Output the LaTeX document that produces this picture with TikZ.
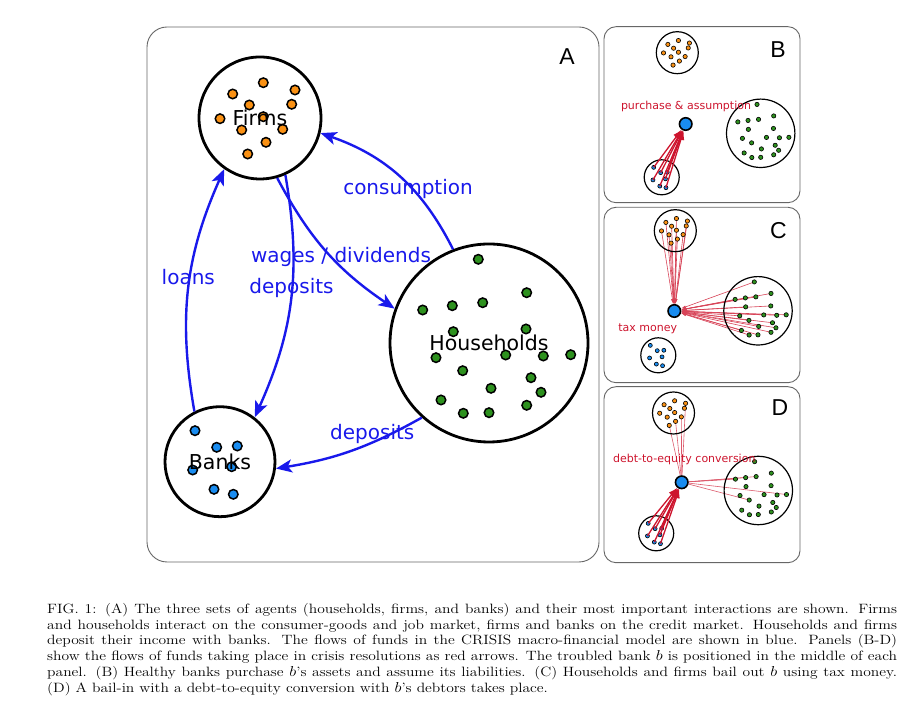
\documentclass[tikz,border=0pt]{standalone}
\usepackage{fontspec}
\setsansfont{DejaVu Sans}
\newfontfamily\panelfont{Liberation Sans}
\usetikzlibrary{arrows.meta,backgrounds}

\definecolor{flowblue}{RGB}{25,25,235}
\definecolor{resred}{RGB}{205,20,45}
\definecolor{firmorange}{RGB}{250,145,20}
\definecolor{hhgreen}{RGB}{45,145,30}
\definecolor{bankblue}{RGB}{25,140,240}

\tikzset{
  panel/.style={draw=black!60, line width=0.9pt},
  panelletter/.style={font=\panelfont\fontsize{23}{23}\selectfont, inner sep=0pt},
  sector/.style={circle, draw, line width=2.8pt, inner sep=0pt, font=\sffamily\fontsize{20.5}{20.5}\selectfont},
  smallsector/.style={circle, draw, line width=1.2pt, inner sep=0pt},
  agentdot/.style={circle, draw, inner sep=0pt, minimum size=9.5pt, transform shape},
  smalldot/.style={agentdot, minimum size=12.5pt},
  troubled/.style={circle, draw, fill=bankblue, line width=1.6pt, inner sep=0pt, minimum size=12.5pt},
  flow/.style={draw=flowblue, line width=2.4pt, -{Stealth[length=16pt,width=13pt,inset=4pt]}},
  flowlabel/.style={text=flowblue, font=\sffamily\fontsize{20}{20}\selectfont, inner sep=0pt},
  rescue/.style={draw=resred, line width=1.3pt, -{Latex[length=9pt,width=7pt]}},
  tinyflow/.style={draw=resred!80, line width=0.6pt, -{Latex[length=5pt,width=3pt]}},
  debtlink/.style={draw=resred!70, line width=0.6pt},
  resolabel/.style={text=resred, font=\sffamily\fontsize{11}{11}\selectfont, inner sep=0pt},
  figcaption/.style={text width=739pt, align=justify, inner sep=0pt, xscale=1.15, transform shape,
    font=\rmfamily\fontsize{13.5}{15.8}\selectfont}
}

\newcommand\firmpos{3.3/35.3, -27.3/24, 35/28, 31.7/13.7, -10.7/13, -40/-0.7, -18.3/-12, 22.7/-11.3, 6/-24.3, -12.3/-36, 3.3/1.3}
\newcommand\hhpos{-10.7/83.7, 37.7/50.3, -66.3/33, -36.7/37.3, -6.3/40.3, 37/14, -35.7/11.3, -53/-14.7, 16.7/-12, 54.3/-13, 81.7/-11.7, -26.3/-27.7, 42/-34.7, 2/-45.3, 52/-49.3, -48/-57, -25.7/-70.3, 0/-69.7, 37.7/-62.3}
\newcommand\bankpos{-25/31, -3.3/14.4, 17.3/15.7, -27.3/-8.3, 11.7/-5, -6/-27.6, 13.3/-32.6}

\newcommand\agents[7]{%
  \begin{scope}[shift={#2}, scale=#3]
    \foreach \dx/\dy [count=\k] in #4
      \node[#7, fill=#5, line width=#6] (#1\k) at (\dx,\dy) {};
  \end{scope}}

\begin{document}
\begin{tikzpicture}[x=1pt,y=1pt]
\useasboundingbox (0,0) rectangle (923,711);

\draw[panel, rounded corners=20pt] (147,149) rectangle (599,684);
\node[panelletter] (labA) at (567,654) {A};
\agents{Afirm}{(260,593)}{1}{\firmpos}{firmorange}{1.5pt}{agentdot}
\agents{Ahh}{(489,368)}{1}{\hhpos}{hhgreen}{1.5pt}{agentdot}
\agents{Abank}{(220,249.3)}{1}{\bankpos}{bankblue}{1.5pt}{agentdot}
\node[sector, minimum size=122pt] (firms) at (260,593) {Firms};
\node[sector, minimum size=198pt] (households) at (489,368) {Households};
\node[sector, minimum size=110pt] (banks) at (220,249.3) {Banks};
\draw[flow] (households.111) to[bend right=22] (firms.-14);
\draw[flow] (firms.-74) to[bend right=14] (households.160);
\draw[flow] (firms.-66) to[bend left=17] (banks.52);
\draw[flow] (banks.117) to[bend left=17] (firms.-125);
\draw[flow] (households.-132) to[bend left=10] (banks.-7);
\node[flowlabel] (lcons) at (408,522) {consumption};
\node[flowlabel] (lwages) at (341,454.3) {wages / dividends};
\node[flowlabel] (ldepf) at (291.5,422.7) {deposits};
\node[flowlabel] (lloans) at (188.3,434.3) {loans};
\node[flowlabel] (ldeph) at (372.3,276.7) {deposits};

\draw[panel, rounded corners=12pt] (604,508.3) rectangle (800,684.3);
\node[panelletter] (labB) at (778,661) {B};
\agents{Bfirm}{(677.3,658.3)}{0.345}{\firmpos}{firmorange}{0.6pt}{smalldot}
\agents{Bhh}{(760.7,577.7)}{0.345}{\hhpos}{hhgreen}{0.6pt}{smalldot}
\agents{Bbank}{(661.7,533.7)}{0.32}{\bankpos}{bankblue}{0.6pt}{smalldot}
\node[smallsector, minimum size=42pt] (Bfirms) at (677.3,658.3) {};
\node[smallsector, minimum size=68.4pt] (Bhouseholds) at (760.7,577.7) {};
\node[smallsector, minimum size=35pt] (Bbanks) at (661.7,533.7) {};
\node[troubled] (Bb) at (685.7,587) {};
\foreach \k in {1,...,7} \draw[rescue] (Bbank\k.center) -- (Bb);
\node[resolabel] (Blabel) at (686,605) {purchase \& assumption};

\draw[panel, rounded corners=12pt] (604,328.3) rectangle (800,503.7);
\node[panelletter] (labC) at (778.3,480.3) {C};
\agents{Cfirm}{(675.3,480.3)}{0.345}{\firmpos}{firmorange}{0.6pt}{smalldot}
\agents{Chh}{(758,400.2)}{0.345}{\hhpos}{hhgreen}{0.6pt}{smalldot}
\agents{Cbank}{(658.3,355.7)}{0.32}{\bankpos}{bankblue}{0.6pt}{smalldot}
\node[smallsector, minimum size=42pt] (Cfirms) at (675.3,480.3) {};
\node[smallsector, minimum size=68.4pt] (Chouseholds) at (758,400.2) {};
\node[smallsector, minimum size=35pt] (Cbanks) at (658.3,355.7) {};
\node[troubled] (Cb) at (674.3,400) {};
\begin{scope}[on background layer]
  \foreach \k in {1,...,11} \draw[tinyflow] (Cfirm\k.center) -- (Cb);
  \foreach \k in {1,...,19} \draw[tinyflow] (Chh\k.center) -- (Cb);
\end{scope}
\node[resolabel] (Clabel) at (647.7,382.7) {tax money};

\draw[panel, rounded corners=12pt] (604,148.3) rectangle (800,324.3);
\node[panelletter] (labD) at (780,303.7) {D};
\agents{Dfirm}{(673.5,298)}{0.345}{\firmpos}{firmorange}{0.6pt}{smalldot}
\agents{Dhh}{(758.3,220.5)}{0.345}{\hhpos}{hhgreen}{0.6pt}{smalldot}
\agents{Dbank}{(656.2,177.7)}{0.32}{\bankpos}{bankblue}{0.6pt}{smalldot}
\node[smallsector, minimum size=42pt] (Dfirms) at (673.5,298) {};
\node[smallsector, minimum size=68.4pt] (Dhouseholds) at (758.3,220.5) {};
\node[smallsector, minimum size=35pt] (Dbanks) at (656.2,177.7) {};
\node[troubled] (Db) at (681.7,228.7) {};
\begin{scope}[on background layer]
  \foreach \k in {3,8,9,10} \draw[debtlink] (Db) -- (Dfirm\k.center);
  \foreach \k in {3,4,5,11,12} \draw[debtlink] (Db) -- (Dhh\k.center);
\end{scope}
\foreach \k in {1,...,7} \draw[rescue] (Dbank\k.center) -- (Db);
\node[resolabel] (Dlabel) at (684.3,251.7) {debt-to-equity conversion};

\node[figcaption, anchor=north west] (caption) at (47,108.1) {FIG. 1: (A) The three sets of agents (households, firms, and banks) and their most important interactions are shown. Firms\linebreak
and households interact on the consumer-goods and job market, firms and banks on the credit market. Households and firms\linebreak
deposit their income with banks. The flows of funds in the CRISIS macro-financial model are shown in blue. Panels (B-D)\linebreak
show the flows of funds taking place in crisis resolutions as red arrows. The troubled bank $b$ is positioned in the middle of each\linebreak
panel. (B) Healthy banks purchase $b$'s assets and assume its liabilities. (C) Households and firms bail out $b$ using tax money.\linebreak
(D) A bail-in with a debt-to-equity conversion with $b$'s debtors takes place.};
\end{tikzpicture}
\end{document}
